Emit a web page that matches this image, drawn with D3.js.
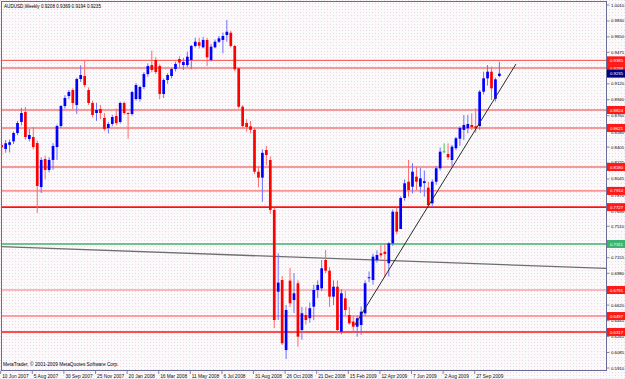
<!DOCTYPE html>
<html><head><meta charset="utf-8">
<script src="https://cdn.jsdelivr.net/npm/d3@7"></script>
<style>html,body{margin:0;padding:0;background:#f8f6f8;}svg{display:block;}</style>
</head><body>
<svg id="c" width="625" height="379"></svg>
<script>
// ---- DATA ----
const symbolTitle = "AUDUSD,Weekly  0.9208 0.9369 0.9194 0.9235";
const copyright = "MetaTrader, © 2001-2009 MetaQuotes Software Corp.";
const firstWeek = "2007-06-10";
const opens  = [.8429,.8384,.8430,.8470,.8564,.8689,.8801,.8497,.8519,.8451,.7954,.8271,.8147,.8260,.8406,.8643,.8869,.8982,.9050,.8881,
 .9174,.9208,.9050,.8903,.8790,.8835,.8734,.8621,.8666,.8756,.8689,.8903,.8790,.8779,.8948,.8948,.9084,.9230,.9332,.9389,
 .9321,.9005,.9163,.9208,.9287,.9400,.9332,.9332,.9389,.9547,.9589,.9532,.9615,.9389,.9532,.9595,.9615,.9671,.9697,.9547,
 .9295,.8861,.8677,.8640,.8600,.8127,.8060,.8372,.8259,.7695,.6772,.6904,.6113,.6897,.6678,.6867,.6339,.6509,.6472,.6603,
 .6791,.6810,.7130,.7009,.6716,.6828,.6320,.6697,.6509,.6434,.6377,.6396,.6528,.6930,.6904,.7130,.7205,.7224,.7093,.7318,
 .7675,.7480,.7830,.8014,.7958,.8071,.7958,.7999,.7947,.7770,.8014,.8166,.8353,.8327,.8259,.8392,.8500,.8599,.8618,.8655,
 .8640,.8643,.9031,.9182,.9257,.8950,.9208];
const highs  = [.8450,.8485,.8490,.8580,.8700,.8850,.8858,.8610,.8632,.8480,.8290,.8310,.8290,.8450,.8660,.8880,.8990,.9050,.9070,.9190,
 .9330,.9389,.9080,.8930,.8903,.8880,.8790,.8690,.8770,.8840,.8920,.8920,.8800,.9040,.9130,.9100,.9250,.9350,.9495,.9420,
 .9340,.9180,.9240,.9300,.9370,.9430,.9411,.9483,.9560,.9640,.9640,.9650,.9640,.9570,.9620,.9660,.9700,.9841,.9720,.9560,
 .9300,.8880,.8720,.8700,.8620,.8180,.8380,.8420,.8300,.7720,.7206,.6950,.6622,.7040,.6983,.6900,.6600,.6600,.6650,.6850,
 .6900,.7130,.7243,.7050,.6900,.6900,.6800,.6780,.6600,.6500,.6500,.6603,.6900,.7000,.7200,.7240,.7299,.7320,.7330,.7700,
 .7720,.7850,.8040,.8260,.8222,.8184,.8169,.8140,.8014,.8040,.8190,.8400,.8448,.8448,.8430,.8520,.8640,.8768,.8768,.8787,
 .8843,.9050,.9257,.9332,.9313,.9190,.9369];
const lows   = [.8316,.8342,.8345,.8440,.8540,.8650,.8490,.8470,.8380,.7660,.7887,.8040,.8120,.8150,.8260,.8620,.8840,.8950,.8830,.8780,
 .9140,.9080,.8880,.8740,.8700,.8720,.8590,.8560,.8640,.8650,.8670,.8770,.8500,.8760,.8930,.8920,.9060,.9200,.9250,.9230,
 .8948,.8960,.9120,.9180,.9260,.9300,.9276,.9310,.9284,.9530,.9520,.9520,.9321,.9370,.9520,.9580,.9465,.9595,.9530,.9260,
 .8840,.8620,.8580,.8560,.8100,.7950,.7788,.8200,.7650,.6360,.6452,.6170,.6012,.6600,.6531,.6151,.6230,.6400,.6420,.6450,
 .6700,.6780,.6980,.6600,.6620,.6300,.6290,.6500,.6400,.6330,.6264,.6283,.6500,.6880,.6850,.7100,.7150,.6942,.6942,.7290,
 .7420,.7560,.7800,.7845,.7883,.7921,.7887,.7845,.7728,.7732,.7980,.8140,.8335,.8259,.8184,.8370,.8420,.8485,.8560,.8599,
 .8568,.8600,.9000,.9100,.8937,.8920,.9194];
const closes = [.8403,.8448,.8460,.8564,.8677,.8790,.8519,.8542,.8406,.7966,.8260,.8147,.8260,.8418,.8643,.8869,.8960,.9027,.8903,.9174,
 .9219,.9106,.8903,.8768,.8824,.8790,.8610,.8666,.8745,.8677,.8903,.8790,.8779,.9027,.9106,.9084,.9230,.9321,.9276,.9253,
 .9005,.9163,.9219,.9287,.9344,.9360,.9366,.9426,.9547,.9595,.9550,.9615,.9419,.9539,.9595,.9634,.9660,.9708,.9547,.9284,
 .8861,.8643,.8632,.8600,.8127,.8060,.8340,.8316,.7695,.6452,.6874,.6189,.6565,.6641,.6754,.6264,.6528,.6452,.6585,.6791,
 .6848,.7036,.7009,.6716,.6828,.6339,.6754,.6565,.6415,.6377,.6472,.6546,.6867,.6935,.7167,.7186,.7183,.7198,.7318,.7675,
 .7450,.7830,.7996,.7920,.8127,.8014,.8052,.8020,.7750,.8014,.8166,.8353,.8353,.8290,.8410,.8505,.8620,.8655,.8666,.8629,
 .8617,.9031,.9182,.9257,.9069,.9170,.9235];
const yTickLabels = ["1.0010","0.9830","0.9650","0.9475","0.9300","0.9120","0.8940","0.8760","0.8580","0.8405","0.8225","0.8045",
 "0.7870","0.7690","0.7510","0.7335","0.7155","0.6980","0.6800","0.6620","0.6445","0.6265","0.6085","0.5910"];
const xTickLabels = ["10 Jun 2007","5 Aug 2007","30 Sep 2007","25 Nov 2007","20 Jan 2008","16 Mar 2008","11 May 2008","6 Jul 2008",
 "31 Aug 2008","26 Oct 2008","21 Dec 2008","15 Feb 2009","12 Apr 2009","7 Jun 2009","2 Aug 2009","27 Sep 2009"];
const xTickWeeks = [0,8,16,24,32,40,48,56,64,72,80,88,96,104,112,120];
const levelPrices = [0.9385,0.9298,0.8824,0.8621,0.8180,0.7910,0.7727,0.7311,0.6791,0.6497,0.6317];
const levelKinds  = ["thin","soft","soft","soft","soft","thin","strong","green","soft1","thin","strong"];
const bidPrice = 0.9235;
const trendGrey  = [{w:-1, p:0.7282},{w:153, p:0.7036}];
const trendBlack = [{w:89.4, p:0.6396},{w:130.2, p:0.9344}];

// ---- CHART ----
const W=625,H=379, L=1, T=1, R=606, B=370;
const svg=d3.select("#c");
const defs=svg.append("defs");
const pat=defs.append("pattern").attr("id","dots").attr("width",6).attr("height",6).attr("patternUnits","userSpaceOnUse");
pat.append("rect").attr("width",6).attr("height",6).attr("fill","#fbfafb");
pat.append("rect").attr("x",0).attr("y",0).attr("width",1).attr("height",1).attr("fill","#efd3e4");
pat.append("rect").attr("x",3).attr("y",3).attr("width",1).attr("height",1).attr("fill","#d6dbf2");
pat.append("rect").attr("x",3).attr("y",0).attr("width",1).attr("height",1).attr("fill","#f3e4ee");
pat.append("rect").attr("x",0).attr("y",3).attr("width",1).attr("height",1).attr("fill","#e6e8f6");
svg.append("rect").attr("width",W).attr("height",H).attr("fill","url(#dots)");
defs.append("clipPath").attr("id","plot").append("rect").attr("x",L).attr("y",T).attr("width",R-L).attr("height",B-T);

const n=opens.length;
const x=d3.scaleLinear().domain([0,n-1]).range([1.7,1.7+3.95*(n-1)]);
const y=d3.scaleLinear().domain([0.5910,1.0010]).range([368,5]);

const g=svg.append("g").attr("clip-path","url(#plot)");

// level lines
const levelStyle={thin:{c:"#ff4a4a",w:1},soft:{c:"#f39a9a",w:2},soft1:{c:"#f07a7a",w:1.2},strong:{c:"#ff1010",w:1.6},green:{c:"#3cb371",w:1.5}};
levelPrices.forEach((p,i)=>{
  const s=levelStyle[levelKinds[i]];
  g.append("line").attr("x1",L).attr("x2",R).attr("y1",y(p)).attr("y2",y(p)).attr("stroke",s.c).attr("stroke-width",s.w);
});
// grey trend
g.append("line").attr("x1",x(trendGrey[0].w)).attr("y1",y(trendGrey[0].p)).attr("x2",x(trendGrey[1].w)).attr("y2",y(trendGrey[1].p))
 .attr("stroke","#6e6e6e").attr("stroke-width",1.3);

// candles
const idx=d3.range(n);
const cg=g.append("g");
idx.forEach(i=>{
  const o=opens[i],h=highs[i],l=lows[i],c=closes[i];
  const doji=(o===c);
  const up=c>o;
  const wick=doji?"#49c449":(up?"#6f6fff":"#ff6a6a");
  const body=doji?"#49c449":(up?"#0000ff":"#ff0000");
  const cx=x(i);
  cg.append("line").attr("x1",cx).attr("x2",cx).attr("y1",y(h)).attr("y2",y(l)).attr("stroke",wick).attr("stroke-width",1);
  const y1=y(Math.max(o,c)), y2=y(Math.min(o,c));
  if(doji){
    cg.append("line").attr("x1",cx-1.4).attr("x2",cx+1.4).attr("y1",y1).attr("y2",y1).attr("stroke",body).attr("stroke-width",1);
  } else {
    cg.append("rect").attr("x",cx-1.35).attr("width",2.7).attr("y",y1).attr("height",Math.max(1,y2-y1)).attr("fill",body);
  }
});

// black trend
g.append("line").attr("x1",x(trendBlack[0].w)).attr("y1",y(trendBlack[0].p)).attr("x2",x(trendBlack[1].w)).attr("y2",y(trendBlack[1].p))
 .attr("stroke","#2a2a2a").attr("stroke-width",1);

// frame
const axisCol="#6a6a96";
svg.append("rect").attr("x",L+0.5).attr("y",T+0.5).attr("width",R-L).attr("height",B-T).attr("fill","none").attr("stroke",axisCol).attr("stroke-width",1);

// y axis ticks & labels (labels fully hidden behind a price box are not drawn, as in the reference;
// labels partly under a box are nudged just clear of the box text)
const font="'Liberation Sans', Arial, sans-serif";
const boxPrices=levelPrices.concat([bidPrice]);
yTickLabels.forEach(t=>{
  const v=+t, yy=y(v);
  svg.append("line").attr("x1",R+0.5).attr("x2",R+3.5).attr("y1",yy).attr("y2",yy).attr("stroke",axisCol).attr("stroke-width",0.8);
  const covered=boxPrices.some(p=>Math.abs(y(p)-yy)<2.8);
  if(covered) return;
  let ty=yy;
  boxPrices.forEach(p=>{
    const d=yy-y(p);
    if(Math.abs(d)<4.8) ty=y(p)+Math.sign(d)*4.8;
  });
  svg.append("text").attr("x",R+5).attr("y",ty).attr("dy","0.35em").attr("font-family",font).attr("font-size",4.3).attr("fill","#000").text(t);
});
// x axis ticks & labels
xTickWeeks.forEach((w,k)=>{
  const xx=x(w);
  svg.append("line").attr("x1",xx-1).attr("x2",xx-1).attr("y1",B+0.5).attr("y2",B+4).attr("stroke",axisCol).attr("stroke-width",0.8);
  svg.append("text").attr("x",xx+0.5).attr("y",B+7.5).attr("font-family",font).attr("font-size",4.8).attr("fill","#111").text(xTickLabels[k]);
});

// price boxes
const boxFill={thin:"#ff1a1a",soft:"#ff1a1a",soft1:"#ff1a1a",strong:"#ff1a1a",green:"#3cb371"};
function box(p,fill){
  const yy=y(p);
  svg.append("rect").attr("x",R+1).attr("y",yy-4).attr("width",W-R-1).attr("height",8).attr("fill",fill);
  svg.append("text").attr("x",R+4).attr("y",yy).attr("dy","0.36em").attr("font-family",font).attr("font-size",4.3).attr("fill","#fff").text(p.toFixed(4));
}
levelPrices.forEach((p,i)=>box(p,boxFill[levelKinds[i]]));
box(bidPrice,"#000080");

// title & copyright
svg.append("text").attr("x",4).attr("y",8).attr("font-family",font).attr("font-size",4.6).attr("fill","#000").text(symbolTitle);
svg.append("text").attr("x",3).attr("y",366).attr("font-family",font).attr("font-size",4.8).attr("fill","#000").text(copyright);
</script>
</body></html>
